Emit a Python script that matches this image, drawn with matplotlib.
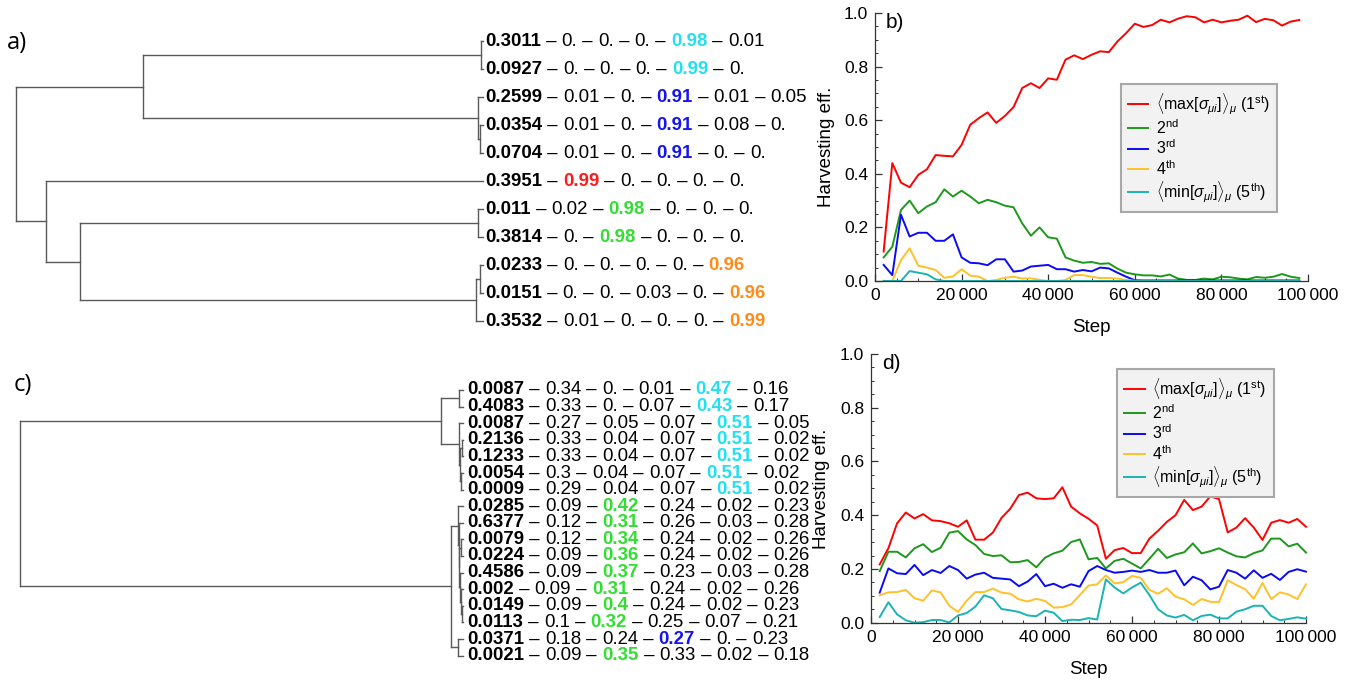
"""
Strategy clusters (dendrograms) and harvesting efficiency vs. step.
a/c: clusters of strategies, weight in bold then the 5 components (largest one coloured)
b/d: rank-ordered harvesting efficiency over training steps
"""
import numpy as np
import matplotlib
matplotlib.use("Agg")
import matplotlib.pyplot as plt
from matplotlib.ticker import FuncFormatter, MultipleLocator

plt.rcParams["font.family"] = ["Liberation Sans", "DejaVu Sans"]
plt.rcParams["mathtext.fontset"] = "custom"
plt.rcParams["mathtext.rm"] = "Liberation Sans"
plt.rcParams["mathtext.it"] = "Liberation Sans:italic"
plt.rcParams["mathtext.bf"] = "Liberation Sans:bold"

# ---- panel a: 11 strategies ----
weights_a = [0.3011, 0.0927, 0.2599, 0.0354, 0.0704, 0.3951, 0.011, 0.3814, 0.0233, 0.0151, 0.3532]
comps_a = [
    [0., 0., 0., 0.98, 0.01],
    [0., 0., 0., 0.99, 0.],
    [0.01, 0., 0.91, 0.01, 0.05],
    [0.01, 0., 0.91, 0.08, 0.],
    [0.01, 0., 0.91, 0., 0.],
    [0.99, 0., 0., 0., 0.],
    [0.02, 0.98, 0., 0., 0.],
    [0., 0.98, 0., 0., 0.],
    [0., 0., 0., 0., 0.96],
    [0., 0., 0.03, 0., 0.96],
    [0.01, 0., 0., 0., 0.99],
]
# linkage rows: (child, child, height); ids >= n_leaves are earlier merges
links_a = [
    (0, 1, 0.005), (3, 4, 0.006), (2, 12, 0.011), (11, 13, 0.728),
    (6, 7, 0.011), (8, 9, 0.006), (16, 10, 0.015), (15, 17, 0.863),
    (5, 18, 0.936), (14, 19, 1.0),
]

# ---- panel c: 17 strategies ----
weights_c = [0.0087, 0.4083, 0.0087, 0.2136, 0.1233, 0.0054, 0.0009, 0.0285, 0.6377,
             0.0079, 0.0224, 0.4586, 0.002, 0.0149, 0.0113, 0.0371, 0.0021]
comps_c = [
    [0.34, 0., 0.01, 0.47, 0.16],
    [0.33, 0., 0.07, 0.43, 0.17],
    [0.27, 0.05, 0.07, 0.51, 0.05],
    [0.33, 0.04, 0.07, 0.51, 0.02],
    [0.33, 0.04, 0.07, 0.51, 0.02],
    [0.3, 0.04, 0.07, 0.51, 0.02],
    [0.29, 0.04, 0.07, 0.51, 0.02],
    [0.09, 0.42, 0.24, 0.02, 0.23],
    [0.12, 0.31, 0.26, 0.03, 0.28],
    [0.12, 0.34, 0.24, 0.02, 0.26],
    [0.09, 0.36, 0.24, 0.02, 0.26],
    [0.09, 0.37, 0.23, 0.03, 0.28],
    [0.09, 0.31, 0.24, 0.02, 0.26],
    [0.09, 0.4, 0.24, 0.02, 0.23],
    [0.1, 0.32, 0.25, 0.07, 0.21],
    [0.18, 0.24, 0.27, 0., 0.23],
    [0.09, 0.35, 0.33, 0.02, 0.18],
]
links_c = [
    (0, 1, 0.009), (3, 4, 0.003), (5, 6, 0.004), (18, 19, 0.007), (2, 20, 0.009),
    (17, 21, 0.050), (13, 14, 0.003), (12, 23, 0.005), (11, 24, 0.007), (9, 10, 0.004),
    (26, 25, 0.008), (8, 27, 0.009), (7, 28, 0.011), (15, 16, 0.011), (29, 30, 0.026),
    (22, 31, 1.0),
]
comp_colors = ["#ff1a1a", "#33dd33", "#1414ee", "#22e0f0", "#ff8c1a"]

# ---- panels b/d: efficiency by rank ----
steps_b = list(range(2000, 98001, 2000))
first_b = [0.11, 0.44, 0.367, 0.35, 0.396, 0.417, 0.47, 0.467, 0.465, 0.508,
           0.583, 0.608, 0.629, 0.59, 0.616, 0.649, 0.72, 0.738, 0.72, 0.756,
           0.751, 0.826, 0.842, 0.828, 0.844, 0.857, 0.854, 0.894, 0.925, 0.96,
           0.948, 0.955, 0.975, 0.965, 0.979, 0.988, 0.984, 0.965, 0.975, 0.965,
           0.971, 0.975, 0.99, 0.966, 0.978, 0.973, 0.953, 0.968, 0.974]
second_b = [0.088, 0.128, 0.265, 0.30, 0.253, 0.278, 0.294, 0.342, 0.315, 0.337,
            0.315, 0.29, 0.303, 0.294, 0.281, 0.275, 0.215, 0.169, 0.20, 0.163,
            0.158, 0.088, 0.076, 0.068, 0.071, 0.064, 0.066, 0.046, 0.031, 0.025,
            0.021, 0.021, 0.017, 0.024, 0.009, 0.004, 0.004, 0.009, 0.006, 0.016,
            0.014, 0.009, 0.006, 0.015, 0.012, 0.016, 0.026, 0.016, 0.011]
third_b = [0.06, 0.022, 0.247, 0.166, 0.18, 0.18, 0.15, 0.15, 0.174, 0.088,
           0.068, 0.066, 0.059, 0.081, 0.081, 0.035, 0.039, 0.054, 0.057, 0.06,
           0.044, 0.044, 0.035, 0.041, 0.036, 0.05, 0.047, 0.031, 0.016, 0.003,
           0.002, 0.002, 0.002, 0.002, 0.002, 0.002, 0.002, 0.002, 0.002, 0.002,
           0.002, 0.002, 0.002, 0.002, 0.002, 0.002, 0.002, 0.002, 0.002]
fourth_b = [0., 0., 0.078, 0.122, 0.057, 0.05, 0.041, 0.012, 0.017, 0.044,
            0.02, 0.016, 0., 0.004, 0.012, 0.016, 0.009, 0.01, 0.004, 0.,
            0., 0.004, 0.022, 0.022, 0.016, 0.011, 0.011, 0.009, 0.004, 0.001,
            0., 0., 0., 0., 0., 0., 0., 0., 0., 0.,
            0., 0., 0., 0., 0., 0., 0., 0., 0.]
fifth_b = [0., 0., 0., 0.037, 0.031, 0.025, 0.006, 0., 0., 0.,
           0., 0., 0., 0., 0., 0., 0., 0., 0., 0.,
           0., 0., 0., 0., 0., 0., 0., 0., 0., 0.,
           0., 0., 0., 0., 0., 0., 0., 0., 0., 0.,
           0., 0., 0., 0., 0., 0., 0., 0., 0.]

steps_d = list(range(2000, 100001, 2000))
first_d = [0.217, 0.277, 0.37, 0.41, 0.388, 0.404, 0.381, 0.378, 0.37, 0.357,
           0.381, 0.309, 0.309, 0.335, 0.39, 0.424, 0.475, 0.484, 0.463, 0.46,
           0.463, 0.504, 0.432, 0.407, 0.387, 0.362, 0.238, 0.27, 0.278, 0.259,
           0.259, 0.313, 0.342, 0.375, 0.40, 0.457, 0.419, 0.432, 0.47, 0.46,
           0.336, 0.354, 0.389, 0.354, 0.308, 0.372, 0.382, 0.372, 0.386, 0.357]
second_d = [0.192, 0.264, 0.264, 0.243, 0.277, 0.292, 0.263, 0.279, 0.335, 0.341,
            0.31, 0.289, 0.256, 0.248, 0.251, 0.225, 0.226, 0.233, 0.206, 0.242,
            0.258, 0.268, 0.30, 0.31, 0.236, 0.241, 0.202, 0.23, 0.238, 0.22,
            0.202, 0.238, 0.275, 0.241, 0.254, 0.262, 0.295, 0.258, 0.266, 0.277,
            0.261, 0.247, 0.243, 0.259, 0.269, 0.313, 0.313, 0.284, 0.294, 0.261]
third_d = [0.112, 0.202, 0.184, 0.181, 0.215, 0.177, 0.196, 0.185, 0.211, 0.196,
           0.164, 0.179, 0.186, 0.167, 0.164, 0.161, 0.136, 0.153, 0.181, 0.136,
           0.145, 0.13, 0.143, 0.134, 0.192, 0.211, 0.196, 0.186, 0.189, 0.194,
           0.189, 0.196, 0.186, 0.186, 0.194, 0.139, 0.171, 0.158, 0.124, 0.134,
           0.196, 0.186, 0.164, 0.195, 0.167, 0.182, 0.159, 0.189, 0.199, 0.19]
fourth_d = [0.102, 0.113, 0.114, 0.122, 0.091, 0.082, 0.12, 0.113, 0.063, 0.04,
            0.082, 0.114, 0.114, 0.127, 0.112, 0.108, 0.087, 0.079, 0.089, 0.081,
            0.056, 0.058, 0.068, 0.103, 0.138, 0.143, 0.176, 0.146, 0.151, 0.174,
            0.167, 0.122, 0.108, 0.128, 0.097, 0.087, 0.066, 0.088, 0.078, 0.076,
            0.158, 0.14, 0.125, 0.089, 0.148, 0.088, 0.113, 0.105, 0.088, 0.143]
fifth_d = [0.021, 0.076, 0.031, 0.009, 0.0, 0.002, 0.01, 0.01, 0.001, 0.027,
           0.036, 0.06, 0.102, 0.091, 0.051, 0.046, 0.04, 0.027, 0.024, 0.045,
           0.037, 0.006, 0.011, 0.01, 0.017, 0.012, 0.161, 0.131, 0.109, 0.131,
           0.149, 0.103, 0.05, 0.027, 0.019, 0.029, 0.009, 0.025, 0.03, 0.016,
           0.016, 0.041, 0.05, 0.063, 0.063, 0.025, 0.009, 0.014, 0.02, 0.015]

rank_labels = [
    r"$\langle\max[\sigma_{\mu i}]\rangle_{\mu}$ (1$^{\mathrm{st}}$)",
    r"2$^{\mathrm{nd}}$",
    r"3$^{\mathrm{rd}}$",
    r"4$^{\mathrm{th}}$",
    r"$\langle\min[\sigma_{\mu i}]\rangle_{\mu}$ (5$^{\mathrm{th}}$)",
]
rank_colors = ["#ff0000", "#1c991c", "#0a0af5", "#ffc12a", "#1bb3b3"]

W, H = 1364, 686
TREE_COLOR = "#5a5a5a"
TXT_SIZE = 13.4


def px_axes(fig, left, top, right, bottom):
    return fig.add_axes([left / W, 1 - bottom / H, (right - left) / W, (bottom - top) / H])


def fmt(v):
    return "0." if v == 0 else f"{v:g}"


def draw_tree(ax, links, n):
    ypos = {i: float(i) for i in range(n)}
    hpos = {i: 0.0 for i in range(n)}
    for k, (a, b, h) in enumerate(links):
        for c in (a, b):
            ax.plot([hpos[c], h], [ypos[c], ypos[c]], color=TREE_COLOR, lw=1.0, clip_on=False)
        ax.plot([h, h], [ypos[a], ypos[b]], color=TREE_COLOR, lw=1.0, clip_on=False)
        ypos[n + k] = (ypos[a] + ypos[b]) / 2
        hpos[n + k] = h
    ax.set_xlim(1.0, 0.0)
    ax.set_ylim(n - 0.5, -0.5)
    ax.axis("off")


def write_rows(ax, weights, comps, x_off):
    tr = ax.get_yaxis_transform()
    for row, (w, vals) in enumerate(zip(weights, comps)):
        t = ax.annotate(fmt(w), xy=(1, row), xycoords=tr, xytext=(x_off, 0),
                        textcoords="offset points", va="center", ha="left",
                        fontsize=TXT_SIZE, fontweight="bold", annotation_clip=False)
        hi = int(np.argmax(vals))
        for k, v in enumerate(vals):
            t = ax.annotate(" \u2013 ", xy=(1, 0), xycoords=t, va="bottom", fontsize=TXT_SIZE)
            if k == hi:
                t = ax.annotate(fmt(v), xy=(1, 0), xycoords=t, va="bottom", fontsize=TXT_SIZE,
                                fontweight="bold", color=comp_colors[k])
            else:
                t = ax.annotate(fmt(v), xy=(1, 0), xycoords=t, va="bottom", fontsize=TXT_SIZE)


def step_fmt(v, _):
    return f"{int(round(v)):,}".replace(",", "\u2009")


def eff_panel(ax, steps, series, tag, leg_anchor):
    for ys, c, lab in zip(series, rank_colors, rank_labels):
        ax.plot(steps, ys, color=c, lw=1.4, label=lab, clip_on=False)
    ax.set_xlim(0, 100000)
    ax.set_ylim(0, 1.0)
    for s in ("top", "right"):
        ax.spines[s].set_visible(False)
    for s in ("left", "bottom"):
        ax.spines[s].set_color("#333333")
        ax.spines[s].set_linewidth(0.9)
    ax.xaxis.set_major_locator(MultipleLocator(20000))
    ax.xaxis.set_minor_locator(MultipleLocator(5000))
    ax.yaxis.set_major_locator(MultipleLocator(0.2))
    ax.yaxis.set_minor_locator(MultipleLocator(0.05))
    ax.xaxis.set_major_formatter(FuncFormatter(step_fmt))
    ax.yaxis.set_major_formatter(FuncFormatter(lambda v, _: f"{v:.1f}"))
    ax.tick_params(which="major", direction="in", length=5, width=0.9, color="#333333",
                   labelsize=12.5, pad=5)
    ax.tick_params(which="minor", direction="in", length=2.5, width=0.7, color="#333333")
    ax.set_xlabel("Step", fontsize=13.5, va="center")
    ax.xaxis.set_label_coords(0.5, -0.175)
    ax.set_ylabel("Harvesting eff.", fontsize=13.5, va="center")
    ax.yaxis.set_label_coords(-0.113, 0.5)
    ax.text(0.025, 1.0, tag, transform=ax.transAxes, fontsize=15, va="top", ha="left")
    leg = ax.legend(loc="upper left", bbox_to_anchor=leg_anchor, fontsize=11.5,
                    handlelength=1.3, handletextpad=0.45, labelspacing=0.1,
                    borderpad=0.45, borderaxespad=0.0, fancybox=False, framealpha=1.0)
    leg.get_frame().set_facecolor("#f2f2f2")
    leg.get_frame().set_edgecolor("#a8a8a8")
    leg.get_frame().set_linewidth(1.5)


def main():
    fig = plt.figure(figsize=(W / 100, H / 100), dpi=100)

    ax_a = px_axes(fig, 16, 27, 483, 335)
    draw_tree(ax_a, links_a, len(weights_a))
    write_rows(ax_a, weights_a, comps_a, 1.5)

    ax_c = px_axes(fig, 20, 381.7, 463, 663.9)
    draw_tree(ax_c, links_c, len(weights_c))
    write_rows(ax_c, weights_c, comps_c, 3.0)

    fig.text(7 / W, 1 - 31 / H, "a)", fontsize=17, family="Open Sans", va="top")
    fig.text(14 / W, 1 - 373 / H, "c)", fontsize=17, family="Open Sans", va="top")

    ax_b = px_axes(fig, 875, 13, 1308, 281)
    eff_panel(ax_b, steps_b, [first_b, second_b, third_b, fourth_b, fifth_b], "b)", (0.567, 0.735))

    ax_d = px_axes(fig, 871, 354, 1306, 622.7)
    eff_panel(ax_d, steps_d, [first_d, second_d, third_d, fourth_d, fifth_d], "d)", (0.566, 0.944))

    fig.savefig("out.png", dpi=100)


if __name__ == "__main__":
    main()
